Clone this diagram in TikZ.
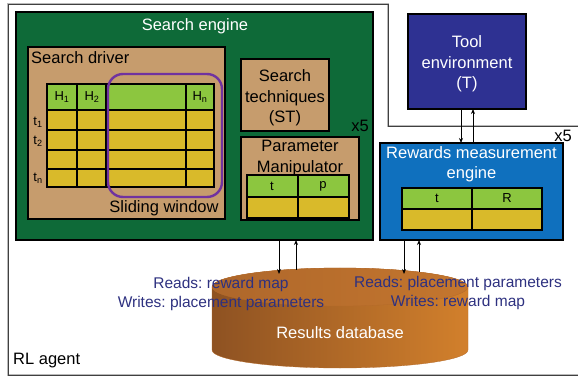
\documentclass[tikz,border=0pt]{standalone}
\usepackage{fontspec}
\setmainfont{Liberation Sans}
\usetikzlibrary{arrows.meta}
\frenchspacing
\definecolor{seGreen}{HTML}{0E6A38}
\definecolor{tanbox}{HTML}{C69C6D}
\definecolor{hdrGreen}{HTML}{8CC63F}
\definecolor{cellYellow}{HTML}{D9BA2A}
\definecolor{winPurple}{HTML}{7032A0}
\definecolor{toolBlue}{HTML}{2E3192}
\definecolor{rewBlue}{HTML}{0F70BE}
\definecolor{labBlue}{HTML}{2E3180}
\definecolor{dbDark}{HTML}{8E5222}
\definecolor{dbMid}{HTML}{B46A2A}
\definecolor{dbLight}{HTML}{D2802C}
\definecolor{dbTopL}{HTML}{AE672B}
\definecolor{dbTopR}{HTML}{C4762E}
\begin{document}
\begin{tikzpicture}[x=1pt,y=-1pt,
  box/.style={draw=black, line width=1.3pt, inner sep=0pt, outer sep=0pt, anchor=north west},
  bigtxt/.style={font=\fontsize{16.5}{20.5}\selectfont\frenchspacing, inner sep=0pt, align=center},
  midtxt/.style={font=\fontsize{15.5}{19}\selectfont\frenchspacing, inner sep=0pt, align=center, text=labBlue},
  smalltxt/.style={font=\fontsize{13}{15}\selectfont, inner sep=0pt},
  grid/.style={draw=black, line width=1.1pt},
  conn/.style={draw=black, line width=0.9pt, -{Stealth[length=5pt,width=4pt]}}
]
\useasboundingbox (0,0) rectangle (578,379);

% RL agent frame
\draw[gray!55, line width=2pt] (578,126) -- (388,126) -- (388,4) -- (8,4) -- (8,375) -- (578,375);
\draw[black!75, line width=0.8pt] (578,126) -- (388,126) -- (388,4) -- (8,4) -- (8,375) -- (578,375);
\node[bigtxt, anchor=west] (rl) at (13,361) {RL agent};

% Search engine
\node[box, fill=seGreen, minimum width=357pt, minimum height=228pt] (se) at (16,12) {};
\node[bigtxt, text=white] (setxt) at (195,26) {Search engine};

% Search driver
\node[box, fill=tanbox, minimum width=197pt, minimum height=172pt] (sd) at (28,47) {};
\node[bigtxt, anchor=west] (sdtxt) at (31,58) {Search driver};
\fill[hdrGreen] (47,84) rectangle (214,110);
\fill[cellYellow] (47,110) rectangle (214,187);
\foreach \x in {77,186} \draw[grid] (\x,84) -- (\x,187);
\draw[grid, line width=1.6pt] (106,84) -- (106,187);
\foreach \y in {110,130,150,169} \draw[grid] (47,\y) -- (214,\y);
\draw[grid] (47,84) rectangle (214,187);
\node[smalltxt] (h1) at (62,97) {H\textsubscript{1}};
\node[smalltxt] (h2) at (92,97) {H\textsubscript{2}};
\node[smalltxt] (hn) at (200,97) {H\textsubscript{n}};
\node[smalltxt] (t1) at (38,122) {t\textsubscript{1}};
\node[smalltxt] (t2) at (38,141) {t\textsubscript{2}};
\node[smalltxt] (tn) at (38,178) {t\textsubscript{n}};
\draw[winPurple, line width=2.4pt, rounded corners=15pt] (108,74) rectangle (222,197);
\node[bigtxt] (swtxt) at (164,208) {Sliding window};

% Search techniques
\node[box, fill=tanbox, minimum width=88pt, minimum height=72pt] (st) at (241,59) {};
\node[bigtxt] (sttxt) at (285,98) {Search\\techniques\\(ST)};
\node[bigtxt] (x5a) at (360,126) {x5};

% Parameter manipulator
\node[box, fill=tanbox, minimum width=118pt, minimum height=83pt] (pm) at (241,137) {};
\node[bigtxt] (pmtxt) at (300,158) {Parameter\\Manipulator};
\fill[hdrGreen] (247,175) rectangle (349,197);
\fill[cellYellow] (247,197) rectangle (349,218);
\draw[grid] (247,175) rectangle (349,218);
\draw[grid] (298,175) -- (298,218);
\draw[grid] (247,197) -- (349,197);
\node[smalltxt] (pt) at (272,186) {t};
\node[smalltxt] (pp) at (323,186) {p};

% Tool environment
\node[box, fill=toolBlue, minimum width=118pt, minimum height=95pt] (tool) at (408,14) {};
\node[bigtxt, text=white] (tooltxt) at (467,64) {Tool\\environment\\(T)};

% Rewards measurement engine
\node[box, fill=rewBlue, minimum width=183pt, minimum height=97pt] (rw) at (380,143) {};
\node[bigtxt, text=white] (rwtxt) at (471.5,164) {Rewards measurement\\engine};
\node[bigtxt] (x5b) at (563,136) {x5};
\fill[hdrGreen] (402,188) rectangle (542,209);
\fill[cellYellow] (402,209) rectangle (542,230);
\draw[grid] (402,188) rectangle (542,230);
\draw[grid] (472,188) -- (472,230);
\draw[grid] (402,209) -- (542,209);
\node[smalltxt] (rt) at (437,198) {t};
\node[smalltxt] (rr) at (507,198) {R};

% Results database (cylinder)
\path[left color=dbDark, middle color=dbMid, right color=dbLight, draw=dbMid, line width=0.3pt]
  (212,287) -- (212,350) arc[start angle=180, end angle=360, x radius=128pt, y radius=18pt]
  -- (468,287) arc[start angle=0, end angle=180, x radius=128pt, y radius=19pt] -- cycle;
\path[left color=dbTopL, right color=dbTopR, draw=dbMid, line width=0.3pt]
  (340,287) ellipse [x radius=128pt, y radius=19pt];
\node[bigtxt, text=white] (dbtxt) at (340,333) {Results database};

% connectors
\coordinate (a1) at (279,274);
\coordinate (a2) at (296,270);
\coordinate (b1) at (404,274);
\coordinate (b2) at (419,272);
\coordinate (c1) at (461,0);
\coordinate (c2) at (473,0);
\draw[conn] (se.south -| a1) -- (a1);
\draw[conn] (a2) -- (se.south -| a2);
\draw[conn] (rw.south -| b1) -- (b1);
\draw[conn] (b2) -- (rw.south -| b2);
\draw[conn] (tool.south -| c1) -- (rw.north -| c1);
\draw[conn] (rw.north -| c2) -- (tool.south -| c2);

% labels
\node[midtxt] (lab1) at (221,293.5) {Reads: reward map\\Writes: placement parameters};
\node[midtxt] (lab2) at (458,292.5) {Reads: placement parameters\\Writes: reward map};
\end{tikzpicture}
\end{document}
